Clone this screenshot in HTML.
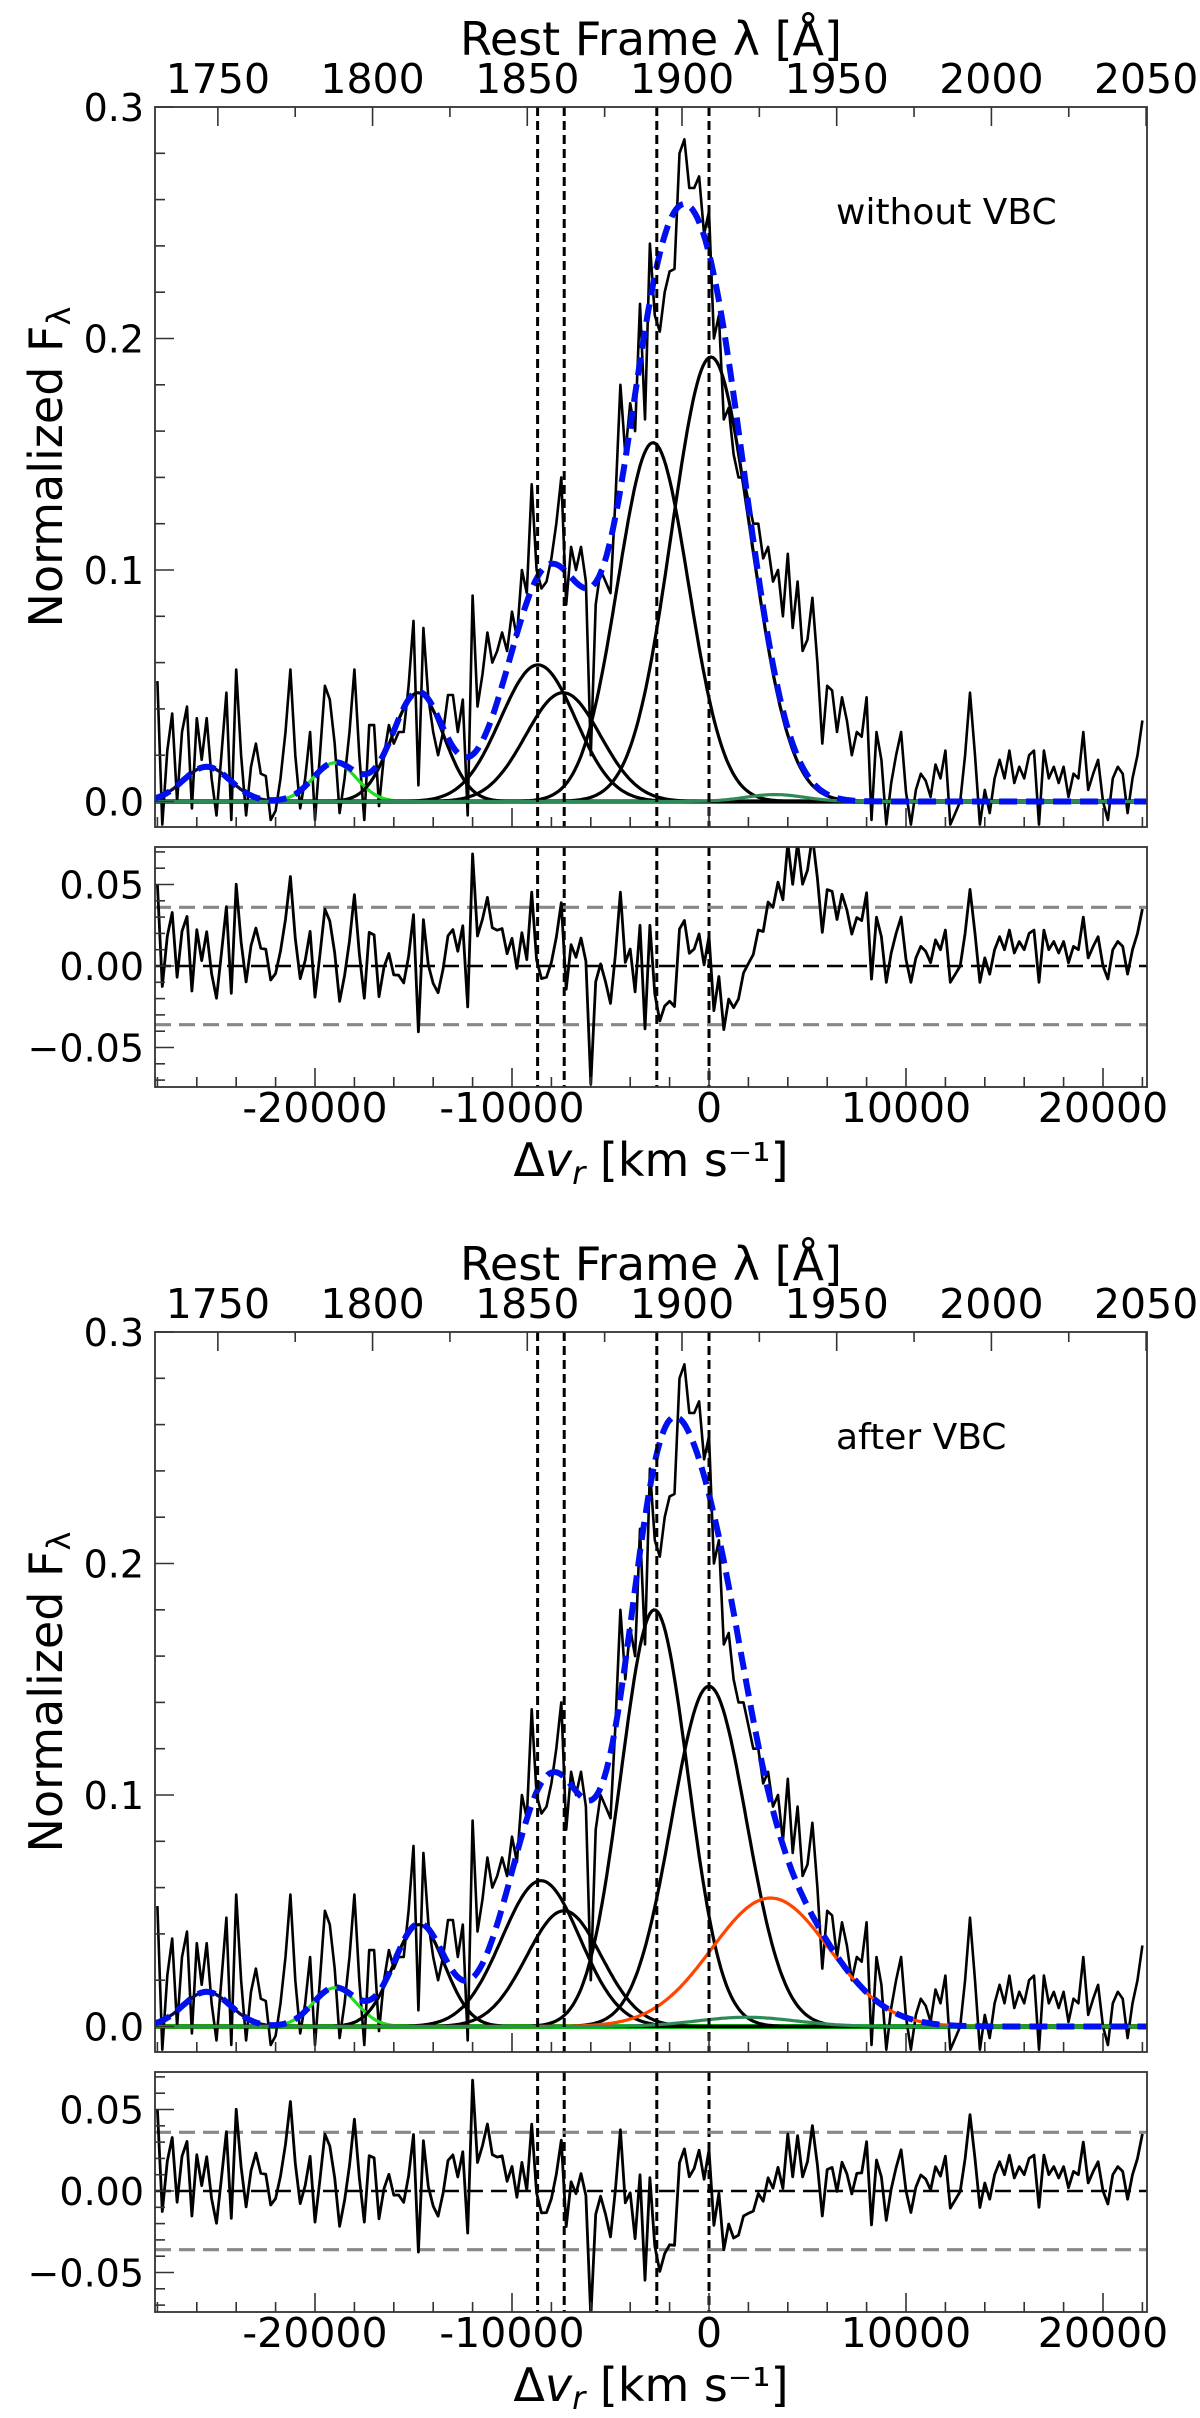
<!DOCTYPE html>
<html><head><meta charset="utf-8"><style>
html,body{margin:0;padding:0;background:#fff;}
svg{display:block;font-family:"DejaVu Sans","Liberation Sans",sans-serif;}
</style></head><body>
<svg id="fig" width="1200" height="2418" viewBox="0 0 1200 2418" xmlns="http://www.w3.org/2000/svg">
<defs>
<clipPath id="cm1"><rect x="155" y="107" width="992" height="720"/></clipPath>
<clipPath id="cr1"><rect x="155" y="847" width="992" height="240"/></clipPath>
<clipPath id="cm2"><rect x="155" y="1332" width="992" height="720"/></clipPath>
<clipPath id="cr2"><rect x="155" y="2072" width="992" height="240"/></clipPath>
</defs>
</svg>
<script>
// ---- data ----
const velStart = -28000;
const velStep = 250;
const flux = [
0.052,-0.01,0.022,0.038,0.0,0.03,0.041,-0.003,0.036,0.018,
0.036,0.01,-0.006,0.02,0.047,-0.008,0.057,0.02,-0.006,0.015,
0.025,0.012,0.011,-0.008,-0.004,0.01,0.03,0.057,0.02,-0.003,
0.01,0.03,-0.008,0.02,0.05,0.044,0.025,-0.005,0.01,0.03,
0.057,0.02,-0.008,0.033,0.033,-0.002,0.02,0.033,0.025,0.03,
0.03,0.05,0.078,0.007,0.075,0.045,0.03,0.02,0.03,0.046,
0.046,0.03,0.044,-0.006,0.089,0.041,0.055,0.073,0.06,0.065,
0.073,0.065,0.082,0.071,0.1,0.09,0.137,0.1,0.092,0.095,
0.105,0.12,0.14,0.085,0.11,0.1,0.11,0.095,0.02,0.085,
0.1,0.095,0.09,0.13,0.18,0.15,0.172,0.16,0.215,0.165,
0.241,0.21,0.203,0.22,0.229,0.23,0.28,0.286,0.265,0.265,
0.27,0.245,0.255,0.2,0.21,0.165,0.17,0.15,0.14,0.14,
0.13,0.12,0.12,0.105,0.11,0.095,0.1,0.08,0.107,0.075,
0.095,0.065,0.07,0.088,0.06,0.025,0.05,0.048,0.03,0.045,
0.035,0.02,0.03,0.028,0.045,-0.008,0.03,0.018,-0.01,0.008,
0.02,0.03,0.004,-0.01,0.005,0.012,0.009,0.002,0.016,0.01,
0.022,-0.01,-0.005,0.0,0.02,0.047,0.02,-0.01,0.005,-0.005,
0.01,0.018,0.01,0.022,0.008,0.015,0.01,0.02,0.022,-0.01,
0.022,0.01,0.015,0.008,0.015,0.002,0.012,0.01,0.03,0.005,
0.012,0.018,0.0,-0.008,0.01,0.015,0.012,-0.005,0.01,0.02,
0.035];
const p1Centers = [-25500,-19000,-14770,-8680,-7410,-2840,100,3350];
const p1Amps    = [0.015,0.0167,0.047,0.059,0.047,0.155,0.192,0.003];
const p1Sigmas  = [1200,1100,1300,1900,1900,1800,2000,1500];
const p2Centers = [-25500,-19000,-14720,-8530,-7360,-2770,0,3120,1900];
const p2Amps    = [0.015,0.0167,0.044,0.063,0.050,0.18,0.147,0.0555,0.004];
const p2Sigmas  = [1200,1100,1300,1980,1900,1700,1900,2980,2500];
const lineVels = [-8700,-7350,-2650,0];
const resBand = 0.036;
const topTickLabels = [1750,1800,1850,1900,1950,2000,2050];
const botTickLabels = [-20000,-10000,0,10000,20000];
const mainYTicks = [0.0,0.1,0.2,0.3];
const resYTicks = [-0.05,0.0,0.05];
const panelTitles = ["without VBC","after VBC"];

// ---- styles (not data) ----
const p1Colors = ["#0b0b4d","#22dd22","#000","#000","#000","#000","#000","#2e8b57"];
const p2Colors = ["#0b0b4d","#22dd22","#000","#000","#000","#000","#000","#ff4500","#2e8b57"];

const svg = document.getElementById('fig');
const NS = "http://www.w3.org/2000/svg";
const L = 155, R = 1147;
const X = v => 709 + v * 0.0197;
const C = 299792.458, LAM0 = 1908.73;

function el(tag, attrs, parent) {
  const e = document.createElementNS(NS, tag);
  for (const k in attrs) e.setAttribute(k, attrs[k]);
  (parent || svg).appendChild(e);
  return e;
}
function gauss(v, c, a, s) { return a * Math.exp(-0.5 * ((v - c) / s) ** 2); }
function total(v, cs, as, ss) { let t = 0; for (let i = 0; i < cs.length; i++) t += gauss(v, cs[i], as[i], ss[i]); return t; }
function pathFrom(pts) { return pts.map((p, i) => (i ? 'L' : 'M') + p[0].toFixed(1) + ' ' + p[1].toFixed(1)).join(''); }

function panel(k, off, cs, as, ss, colors) {
  const top = 107 + off, bot = 827 + off, rtop = 847 + off, rbot = 1087 + off;
  const Y = f => 801.5 + off - f * 2315;
  const RY = r => 966 + off - r * 1630;
  const g = el('g', {});
  
  
  const gm = el('g', {'clip-path': 'url(#cm' + (k + 1) + ')'}, g);
  const cont = el('line', {x1: L, x2: R, y1: Y(0), y2: Y(0), stroke: '#00f000', 'stroke-width': 5}, gm);
  
  
  const sp = flux.map((f, i) => [X(velStart + i * velStep), Y(f)]);
  const spec = el('path', {d: pathFrom(sp), fill: 'none', stroke: '#000', 'stroke-width': 2.6, 'stroke-linejoin': 'round'}, gm);
  
  
  for (let j = 0; j < cs.length; j++) {
    const pts = [];
    for (let v = -28200; v <= 22400; v += 100) pts.push([X(v), Y(gauss(v, cs[j], as[j], ss[j]))]);
    const c = el('path', {d: pathFrom(pts), fill: 'none', stroke: colors[j], 'stroke-width': 3.2}, gm);
    
    
  }
  const tp = [];
  for (let v = -28200; v <= 22400; v += 100) tp.push([X(v), Y(total(v, cs, as, ss))]);
  const fit = el('path', {d: pathFrom(tp), fill: 'none', stroke: '#0010ee', 'stroke-width': 6, 'stroke-dasharray': '18 9'}, gm);
  
  
  lineVels.forEach(lv => {
    [[top, bot], [rtop, rbot]].forEach(([a, b]) => {
      const vl = el('line', {x1: X(lv), x2: X(lv), y1: a, y2: b, stroke: '#000', 'stroke-width': 3, 'stroke-dasharray': '9 5'}, g);
      
      
    });
  });
  const gr = el('g', {'clip-path': 'url(#cr' + (k + 1) + ')'}, g);
  [resBand, -resBand].forEach(b => {
    const bl = el('line', {x1: L, x2: R, y1: RY(b), y2: RY(b), stroke: '#888', 'stroke-width': 3.2, 'stroke-dasharray': '16 8'}, gr);
    
    
  });
  const zl = el('line', {x1: L, x2: R, y1: RY(0), y2: RY(0), stroke: '#000', 'stroke-width': 2.5, 'stroke-dasharray': '16 8'}, gr);
  
  
  const rp = flux.map((f, i) => { const v = velStart + i * velStep; return [X(v), RY(f - total(v, cs, as, ss))]; });
  const res = el('path', {d: pathFrom(rp), fill: 'none', stroke: '#000', 'stroke-width': 2.8, 'stroke-linejoin': 'round'}, gr);
  
  
  [[top, bot], [rtop, rbot]].forEach(([a, b]) => {
    const fr = el('rect', {x: L, y: a, width: R - L, height: b - a, fill: 'none', stroke: '#333', 'stroke-width': 1.8}, g);
    
    
  });
  for (let f = 0; f <= 0.3001; f += 0.02) {
    const major = Math.abs(f * 10 - Math.round(f * 10)) < 1e-6;
    el('line', {x1: L, x2: L + (major ? 19 : 10), y1: Y(f), y2: Y(f), stroke: '#333', 'stroke-width': 1.6}, g);
  }
  mainYTicks.forEach(f => {
    const t = el('text', {x: 144, y: Y(f) + 14, 'font-size': 38, 'text-anchor': 'end'}, g);
    t.textContent = f.toFixed(1);
    
    
  });
  for (let r = -0.07; r <= 0.0701; r += 0.01) {
    const major = Math.abs(r * 20 - Math.round(r * 20)) < 1e-6;
    el('line', {x1: L, x2: L + (major ? 19 : 10), y1: RY(r), y2: RY(r), stroke: '#333', 'stroke-width': 1.6}, g);
  }
  resYTicks.forEach(r => {
    const t = el('text', {x: 144, y: RY(r) + 14, 'font-size': 38, 'text-anchor': 'end'}, g);
    t.textContent = (r < 0 ? '\u2212' : '') + Math.abs(r).toFixed(2);
    
    
  });
  for (let v = -28000; v <= 22000; v += 2000) {
    const major = v % 10000 === 0;
    [bot, rbot].forEach(b => el('line', {x1: X(v), x2: X(v), y1: b, y2: b - (major ? 19 : 10), stroke: '#333', 'stroke-width': 1.6}, g));
  }
  botTickLabels.forEach(v => {
    const t = el('text', {x: X(v), y: rbot + 35, 'font-size': 41, 'text-anchor': 'middle'}, g);
    t.textContent = String(v);
    
    
  });
  for (let lam = 1750; lam <= 2050; lam += 25) {
    const v = (lam / LAM0 - 1) * C;
    const x = X(v);
    if (x > R + 1) continue;
    const major = lam % 50 === 0;
    el('line', {x1: x, x2: x, y1: top, y2: top + (major ? 19 : 10), stroke: '#333', 'stroke-width': 1.6}, g);
  }
  topTickLabels.forEach(lam => {
    const t = el('text', {x: X((lam / LAM0 - 1) * C), y: top - 14, 'font-size': 41, 'text-anchor': 'middle'}, g);
    t.textContent = String(lam);
    
    
  });
  const tl = el('text', {x: 651, y: 55 + off, 'font-size': 46, 'text-anchor': 'middle'}, g);
  tl.textContent = 'Rest Frame \u03bb [\u00c5]';
  
  
  const xl = el('text', {x: 651, y: 1176 + off, 'font-size': 46, 'text-anchor': 'middle'}, g);
  xl.innerHTML = '\u0394<tspan font-style="italic">v</tspan><tspan font-size="32" font-style="italic" dy="8">r</tspan><tspan dy="-8"> [km s\u207b\u00b9]</tspan>';
  
  
  const yl = el('text', {x: 0, y: 0, 'font-size': 46, 'text-anchor': 'middle', transform: 'translate(62,' + (467 + off) + ') rotate(-90)'}, g);
  yl.innerHTML = 'Normalized F<tspan font-size="32" dy="8">\u03bb</tspan>';
  
  
  const pt = el('text', {x: 836, y: 224 + off, 'font-size': 36}, g);
  pt.textContent = panelTitles[k];
  
  
}
panel(0, 0, p1Centers, p1Amps, p1Sigmas, p1Colors);
panel(1, 1225, p2Centers, p2Amps, p2Sigmas, p2Colors);
</script>
</body></html>
